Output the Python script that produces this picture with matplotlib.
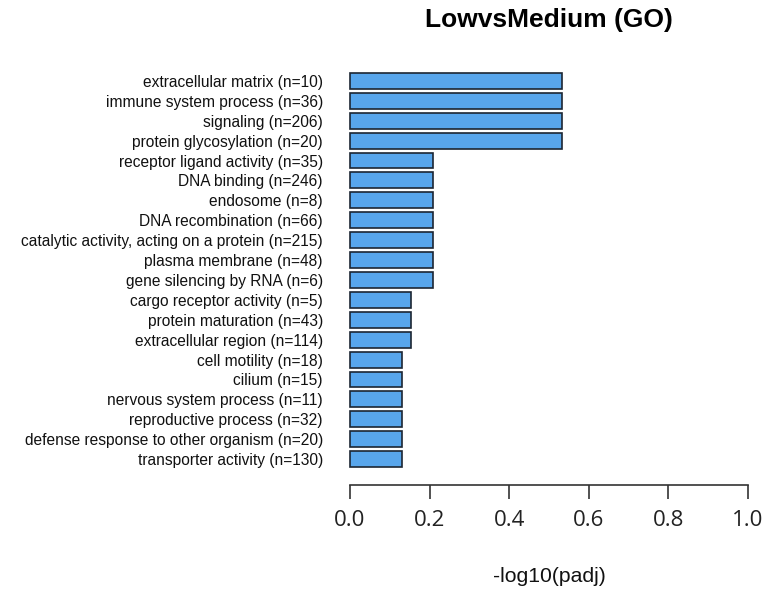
import matplotlib
matplotlib.use("Agg")
import matplotlib.pyplot as plt

categories = [
    "extracellular matrix (n=10)",
    "immune system process (n=36)",
    "signaling (n=206)",
    "protein glycosylation (n=20)",
    "receptor ligand activity (n=35)",
    "DNA binding (n=246)",
    "endosome (n=8)",
    "DNA recombination (n=66)",
    "catalytic activity, acting on a protein (n=215)",
    "plasma membrane (n=48)",
    "gene silencing by RNA (n=6)",
    "cargo receptor activity (n=5)",
    "protein maturation (n=43)",
    "extracellular region (n=114)",
    "cell motility (n=18)",
    "cilium (n=15)",
    "nervous system process (n=11)",
    "reproductive process (n=32)",
    "defense response to other organism (n=20)",
    "transporter activity (n=130)",
]
values = [0.533, 0.533, 0.533, 0.533,
          0.208, 0.208, 0.208, 0.208, 0.208, 0.208, 0.208,
          0.153, 0.153, 0.153,
          0.131, 0.131, 0.131, 0.131, 0.131, 0.131]
xticks = [0.0, 0.2, 0.4, 0.6, 0.8, 1.0]
xtick_labels = ["0.0", "0.2", "0.4", "0.6", "0.8", "1.0"]
title = "LowvsMedium (GO)"
xlabel = "-log10(padj)"

W, H = 774, 594
fig = plt.figure(figsize=(W / 100, H / 100), dpi=100)
fig.patch.set_facecolor("white")

# axes: x from -0.04 to 1.04 -> pixels 334..764 ; y pixels 61..479
ax = fig.add_axes([334 / W, 1 - 479 / H, 430 / W, 418 / H])
pos = list(range(len(categories)))
ax.barh(pos, values, height=0.8, color="#58A6EC", edgecolor="#1c2633", linewidth=1.2)
ax.set_xlim(-0.04, 1.04)
ax.set_ylim(len(categories), -1)

for s in ["top", "right", "left"]:
    ax.spines[s].set_visible(False)
ax.spines["bottom"].set_position(("outward", 4))
ax.spines["bottom"].set_bounds(0, 1)
ax.spines["bottom"].set_linewidth(1.2)
ax.spines["bottom"].set_color("#333333")

ax.tick_params(axis="y", length=0, pad=8)
ax.tick_params(axis="x", direction="out", length=10, width=1.2, color="#333333", pad=8)

ax.set_yticks(pos)
ax.set_yticklabels(categories, family=["Liberation Sans", "DejaVu Sans"],
                   fontsize=11.2, color="#111111")
ax.set_xticks(xticks)
ax.set_xticklabels(xtick_labels, family=["Open Sans", "DejaVu Sans"],
                   fontsize=16, color="#222222")

fig.text(549 / W, 1 - 20 / H, title, ha="center", va="center", fontsize=19,
         fontweight="bold", family=["Liberation Sans", "DejaVu Sans"])
fig.text(549 / W, 1 - 577 / H, xlabel, ha="center", va="center", fontsize=15.2,
         family=["Liberation Sans", "DejaVu Sans"], color="#111111")

fig.savefig("out.png", dpi=100, facecolor="white")
